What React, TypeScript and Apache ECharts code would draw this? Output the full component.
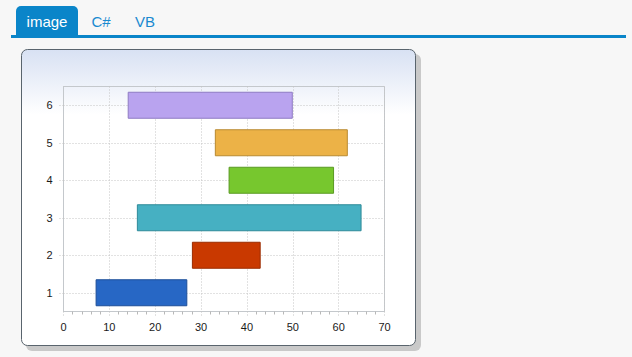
import React, { useEffect, useRef } from "react";
import * as echarts from "echarts";

const categories = ["1", "2", "3", "4", "5", "6"];
const startValues = [7, 28, 16, 36, 33, 14];
const endValues = [27, 43, 65, 59, 62, 50];
const barColors = ["#2767c5", "#c93900", "#46b0c2", "#77c72e", "#ecb247", "#b9a3ef"];
const borderColors = ["#1d4e98", "#9a2c00", "#2e8a99", "#5a9a23", "#b98a30", "#8e7bc3"];
const tabLabels = ["image", "C#", "VB"];

export default function App() {
  const ref = useRef<HTMLDivElement>(null);
  useEffect(() => {
    if (!ref.current) return;
    const chart = echarts.init(ref.current, undefined, { renderer: "svg" });
    const font = "Arial, 'Liberation Sans', sans-serif";
    const gridLine = { color: "#c4c4c4", type: [1, 2] as any, width: 1 };
    chart.setOption({
      animation: false,
      backgroundColor: "#f7f7f7",
      graphic: [
        { type: "rect", z: -10, shape: { x: 16, y: 6, width: 62, height: 31, r: [5, 5, 0, 0] }, style: { fill: "#0a85c9" } },
        { type: "rect", z: -10, shape: { x: 11, y: 35, width: 615, height: 3 }, style: { fill: "#0a85c9" } },
        { type: "text", z: -9, x: 47, y: 21, style: { text: tabLabels[0], fill: "#ffffff", font: `15px ${font}`, align: "center", verticalAlign: "middle" } },
        { type: "text", z: -9, x: 101, y: 21, style: { text: tabLabels[1], fill: "#1a8ad0", font: `15px ${font}`, align: "center", verticalAlign: "middle" } },
        { type: "text", z: -9, x: 145, y: 21, style: { text: tabLabels[2], fill: "#1a8ad0", font: `15px ${font}`, align: "center", verticalAlign: "middle" } },
        { type: "rect", z: -10, shape: { x: 26, y: 54, width: 395, height: 297, r: 6 }, style: { fill: "#c9c9c9" } },
        {
          type: "rect", z: -9,
          shape: { x: 21.5, y: 49.5, width: 394, height: 296, r: 6 },
          style: {
            fill: new echarts.graphic.LinearGradient(0, 0, 0, 1, [
              { offset: 0, color: "#d8e1f3" },
              { offset: 0.22, color: "#ffffff" },
              { offset: 1, color: "#ffffff" },
            ]),
            stroke: "#59646d",
            lineWidth: 1,
          },
        },
      ],
      grid: {
        left: 63.5, top: 86.5, right: 632 - 384.5, bottom: 357 - 311.5,
        show: true, borderColor: "#c4c8cc", borderWidth: 1, backgroundColor: "transparent",
      },
      xAxis: {
        type: "value", min: 0, max: 70, interval: 10,
        axisLine: { show: true, lineStyle: { color: "#c4c8cc" } },
        axisTick: { show: true, length: 5, lineStyle: gridLine },
        minorTick: { show: true, splitNumber: 5, length: 3, lineStyle: { color: "#b8b8b8" } },
        splitLine: { show: true, lineStyle: gridLine },
        axisLabel: { color: "#1a1a1a", fontSize: 11, fontFamily: font, margin: 10 },
      },
      yAxis: {
        type: "category", data: categories,
        axisLine: { show: true, lineStyle: { color: "#c4c8cc" } },
        axisTick: { show: true, length: 6, alignWithLabel: true, lineStyle: gridLine },
        splitLine: { show: false },
        axisLabel: { color: "#1a1a1a", fontSize: 11, fontFamily: font, margin: 11 },
      },
      series: [
        {
          type: "bar", stack: "g", data: startValues, barWidth: "72%", z: 3,
          itemStyle: { color: "transparent" }, silent: true,
        },
        {
          type: "bar", stack: "g", barWidth: "72%", z: 3,
          data: endValues.map((e, i) => ({
            value: e - startValues[i],
            itemStyle: { color: barColors[i], borderColor: borderColors[i], borderWidth: 1 },
          })),
        },
        {
          type: "line", data: categories.map(() => null), silent: true, z: 1,
          markLine: {
            silent: true, symbol: "none", label: { show: false }, z: 1,
            lineStyle: { color: "#c4c4c4", type: [1, 2], width: 1 },
            data: categories.map((c) => ({ yAxis: c })),
          },
        },
      ],
    });
    return () => chart.dispose();
  }, []);
  return <div ref={ref} style={{ position: "fixed", left: 0, top: 0, width: 632, height: 357 }} />;
}
